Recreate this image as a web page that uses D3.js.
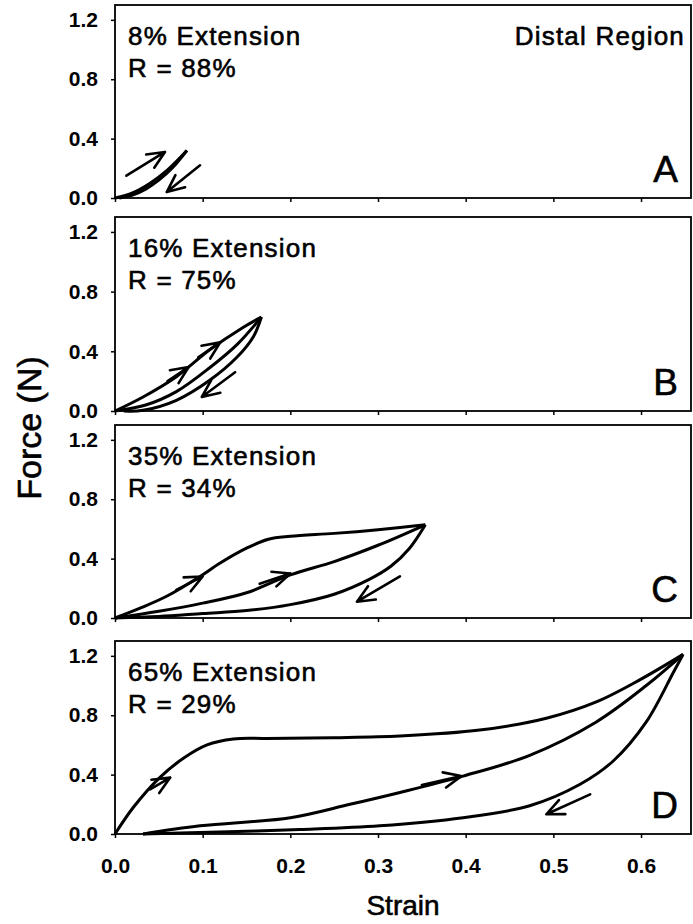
<!DOCTYPE html>
<html>
<head>
<meta charset="utf-8">
<script src="https://cdn.jsdelivr.net/npm/d3@7"></script>
<style>
  body { margin: 0; background: #fff; }
  text { font-family: "Liberation Sans", Arial, sans-serif; fill: #000; }
  .heavy { stroke: #000; stroke-width: 0.6px; }
</style>
</head>
<body>
<svg id="chart" width="693" height="924"></svg>
<script>
const strainTicks = [0, 0.1, 0.2, 0.3, 0.4, 0.5, 0.6];
const forceTicks = [0, 0.4, 0.8, 1.2];
const panelLetters = ["A", "B", "C", "D"];
const extensionLabels = ["8% Extension", "16% Extension", "35% Extension", "65% Extension"];
const recoveryLabels = ["R = 88%", "R = 75%", "R = 34%", "R = 29%"];
const regionLabel = "Distal Region";

// [strain, force]
const loadA = [[0, 0], [0.02, 0.035], [0.04, 0.1], [0.06, 0.19], [0.082, 0.32]];
const unloadA = [[0.082, 0.32], [0.065, 0.2], [0.05, 0.12], [0.035, 0.06], [0.02, 0.02], [0.005, 0]];
const arrowsA = [[0.013, 0.15, 0.057, 0.31], [0.097, 0.22, 0.059, 0.04]];

const loadB = [[0, 0], [0.032, 0.094], [0.07, 0.23], [0.108, 0.41], [0.146, 0.56], [0.167, 0.63]];
const reloadB = [[0, 0], [0.035, 0.04], [0.07, 0.13], [0.108, 0.29], [0.14, 0.45], [0.167, 0.63]];
const unloadB = [[0.167, 0.63], [0.158, 0.5], [0.139, 0.36], [0.108, 0.206], [0.07, 0.072], [0.032, 0.005], [0.01, 0]];
const arrowsB = [[0.06, 0.2, 0.084, 0.295], [0.095, 0.36, 0.12, 0.46], [0.137, 0.26, 0.099, 0.094]];

const loadC = [[0, 0], [0.03, 0.07], [0.06, 0.15], [0.097, 0.28], [0.12, 0.37], [0.15, 0.47], [0.175, 0.53],
  [0.2, 0.55], [0.25, 0.57], [0.3, 0.595], [0.354, 0.628]];
const reloadC = [[0, 0], [0.05, 0.045], [0.1, 0.1], [0.15, 0.17], [0.2, 0.29], [0.25, 0.38], [0.3, 0.49], [0.354, 0.628]];
const unloadC = [[0.354, 0.628], [0.336, 0.47], [0.315, 0.35], [0.29, 0.26], [0.25, 0.16], [0.2, 0.09],
  [0.15, 0.05], [0.1, 0.03], [0.05, 0.01], [0, 0]];
const arrowsC = [[0.07, 0.19, 0.1, 0.28], [0.165, 0.23, 0.2, 0.3], [0.325, 0.28, 0.276, 0.11]];

const loadD = [[0, 0], [0.021, 0.18], [0.051, 0.38], [0.078, 0.51], [0.105, 0.6], [0.135, 0.64], [0.173, 0.644],
  [0.249, 0.649], [0.325, 0.66], [0.416, 0.7], [0.492, 0.78], [0.549, 0.89], [0.599, 1.04], [0.648, 1.21]];
const reloadD = [[0.032, 0], [0.097, 0.055], [0.2, 0.11], [0.268, 0.2], [0.325, 0.28], [0.397, 0.39],
  [0.473, 0.53], [0.549, 0.755], [0.606, 1.0], [0.648, 1.21]];
const unloadD = [[0.648, 1.21], [0.637, 1.09], [0.606, 0.755], [0.568, 0.49], [0.53, 0.333], [0.473, 0.19],
  [0.397, 0.11], [0.302, 0.055], [0.211, 0.03], [0.097, 0.01], [0.032, 0]];
const arrowsD = [[0.04, 0.3, 0.063, 0.38], [0.35, 0.33, 0.395, 0.39], [0.542, 0.267, 0.492, 0.133]];

const panels = [
  {curves: [loadA, unloadA], arrows: arrowsA},
  {curves: [loadB, reloadB, unloadB], arrows: arrowsB},
  {curves: [loadC, reloadC, unloadC], arrows: arrowsC},
  {curves: [loadD, reloadD, unloadD], arrows: arrowsD}
];

const panelTops = [5, 217, 425, 641];
const panelBottoms = [198, 411, 618, 834];
const plotLeft = 115, plotRight = 691;

const svg = d3.select("#chart");
const x = d3.scaleLinear().domain([0, 0.657]).range([plotLeft, plotRight]);

function draw_arrow(g, a, y) {
  let x1 = x(a[0]), y1 = y(a[1]), x2 = x(a[2]), y2 = y(a[3]);
  let ang = Math.atan2(y2 - y1, x2 - x1);
  let len = 19, spread = 0.42;
  let path = d3.path();
  path.moveTo(x1, y1);
  path.lineTo(x2, y2);
  path.moveTo(x2 - len * Math.cos(ang - spread), y2 - len * Math.sin(ang - spread));
  path.lineTo(x2, y2);
  path.lineTo(x2 - len * Math.cos(ang + spread), y2 - len * Math.sin(ang + spread));
  g.append("path")
    .attr("d", path.toString())
    .attr("fill", "none")
    .attr("stroke", "#000")
    .attr("stroke-width", 2.6)
    .attr("stroke-linecap", "round")
    .attr("stroke-linejoin", "round");
}

function draw_panel(panel, i) {
  let y = d3.scaleLinear().domain([0, 1.3]).range([panelBottoms[i], panelTops[i]]);
  let g = svg.append("g");

  let xAxis = d3.axisBottom(x).tickValues(strainTicks).tickSize(4).tickPadding(20)
    .tickFormat(i == 3 ? d3.format(".1f") : "");
  g.append("g")
    .attr("class", "axis")
    .attr("transform", `translate(0, ${y(0)})`)
    .call(xAxis);

  let yAxis = d3.axisLeft(y).tickValues(forceTicks).tickSize(4).tickPadding(13)
    .tickFormat(d3.format(".1f"));
  g.append("g")
    .attr("class", "axis")
    .attr("transform", `translate(${plotLeft}, 0)`)
    .call(yAxis);

  g.selectAll(".axis .domain").remove();
  g.selectAll(".axis line").attr("stroke", "#000").attr("stroke-width", 1.5);
  g.selectAll(".axis text")
    .attr("fill", "#000")
    .style("font-family", "'Liberation Sans', Arial, sans-serif")
    .style("font-size", "21px")
    .style("font-weight", "bold");

  g.append("rect")
    .attr("x", x(0))
    .attr("y", y(1.3))
    .attr("width", x(0.657) - x(0))
    .attr("height", y(0) - y(1.3))
    .attr("fill", "none")
    .attr("stroke", "#000")
    .attr("stroke-width", 1.8);

  let line = d3.line()
    .x(d => x(d[0]))
    .y(d => y(d[1]))
    .curve(d3.curveCatmullRom.alpha(0.5));

  g.selectAll("path.curve")
    .data(panel.curves).enter()
    .append("path")
    .attr("class", "curve")
    .attr("d", line)
    .attr("fill", "none")
    .attr("stroke", "#000")
    .attr("stroke-width", 3);

  panel.arrows.forEach(a => draw_arrow(g, a, y));

  g.append("text")
    .attr("class", "heavy")
    .attr("x", 128)
    .attr("y", panelTops[i] + 40)
    .style("font-size", "26px")
    .style("letter-spacing", "1.2px")
    .text(extensionLabels[i]);
  g.append("text")
    .attr("class", "heavy")
    .attr("x", 128)
    .attr("y", panelTops[i] + 72)
    .style("font-size", "26px")
    .style("letter-spacing", "1.2px")
    .text(recoveryLabels[i]);

  g.append("text")
    .attr("class", "heavy")
    .attr("x", 678)
    .attr("y", panelBottoms[i] - 16)
    .attr("text-anchor", "end")
    .style("font-size", "37px")
    .text(panelLetters[i]);
}

panels.forEach(draw_panel);

svg.append("text")
  .attr("class", "heavy")
  .attr("x", 685)
  .attr("y", panelTops[0] + 40)
  .attr("text-anchor", "end")
  .style("font-size", "26px")
  .style("letter-spacing", "1.2px")
  .text(regionLabel);

svg.append("text")
  .attr("class", "heavy")
  .attr("transform", "translate(41, 428) rotate(-90)")
  .attr("text-anchor", "middle")
  .style("font-size", "34px")
  .text("Force (N)");

svg.append("text")
  .attr("class", "heavy")
  .attr("x", (plotLeft + plotRight) / 2)
  .attr("y", 915)
  .attr("text-anchor", "middle")
  .style("font-size", "28px")
  .text("Strain");
</script>
</body>
</html>
